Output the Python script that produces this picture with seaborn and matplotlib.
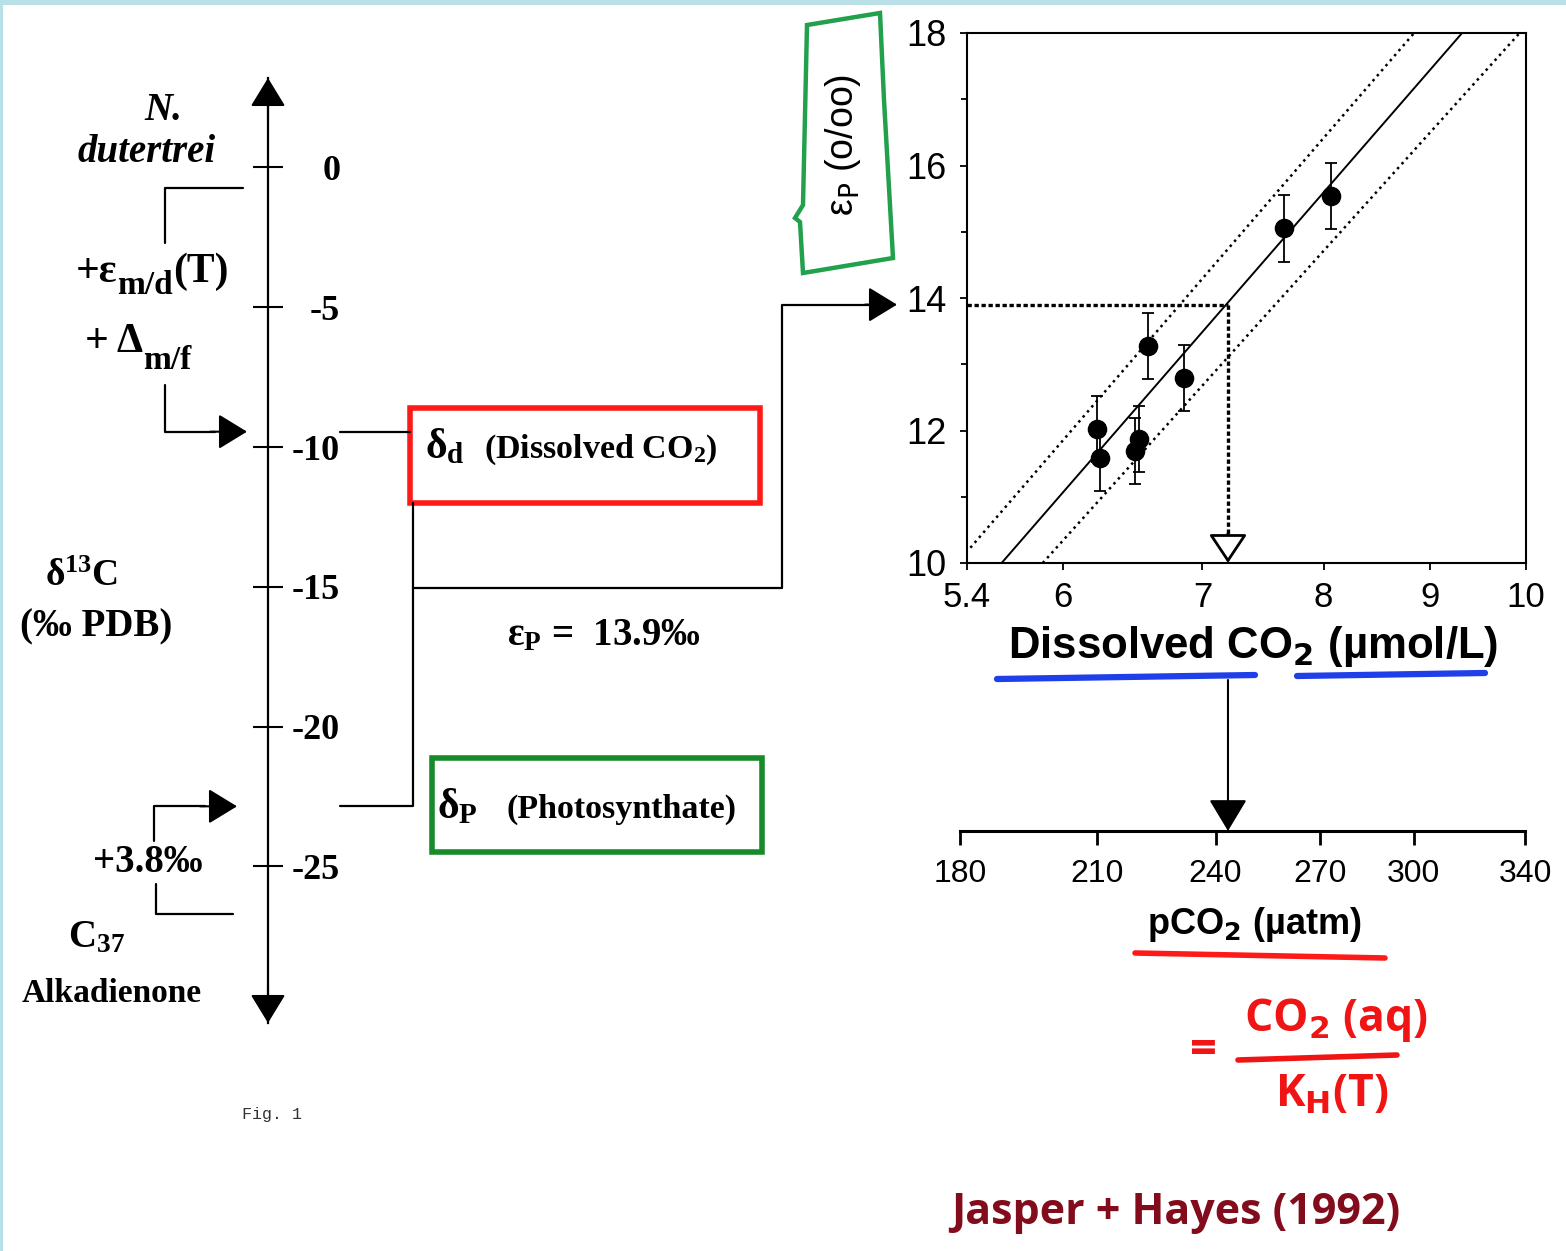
import numpy as np
import pandas as pd
import seaborn as sns
import matplotlib
matplotlib.use('Agg')
import matplotlib.pyplot as plt
from matplotlib.patches import Rectangle, Polygon
from matplotlib.ticker import FixedLocator, NullLocator

# ---- data ----
co2 = [6.23, 6.25, 6.59, 6.86, 6.53, 6.50, 7.66, 8.07]          # umol/L
eps_p = [12.02, 11.59, 13.28, 12.79, 11.87, 11.69, 15.05, 15.54]  # per mil
eps_err = [0.5, 0.5, 0.5, 0.5, 0.5, 0.5, 0.5, 0.5]

fit_co2 = [5.61, 9.32]
fit_eps = [10.0, 18.0]
upper_co2 = [5.42, 8.84]
upper_eps = [10.23, 18.0]
lower_co2 = [5.87, 9.93]
lower_eps = [10.0, 18.0]

eps_sample = 13.9
co2_sample = 7.2

co2_ticks = [5.4, 6, 7, 8, 9, 10]
eps_ticks = [10, 12, 14, 16, 18]
pco2_ticks = [180, 210, 240, 270, 300, 340]
d13c_ticks = [0, -5, -10, -15, -20, -25]

delta_foram = -0.75   # N. dutertrei
delta_d = -9.45       # dissolved CO2
delta_p = -22.85      # photosynthate
delta_c37 = -26.7     # C37 alkadienone

W, H = 1566, 1251
sns.set_style('white')
plt.rcParams['font.family'] = ['Liberation Sans', 'DejaVu Sans']
plt.rcParams['text.color'] = 'black'
plt.rcParams['axes.labelcolor'] = 'black'
plt.rcParams['mathtext.fontset'] = 'custom'
plt.rcParams['mathtext.rm'] = 'Liberation Serif:bold'
plt.rcParams['mathtext.it'] = 'Liberation Serif:italic:bold'
plt.rcParams['mathtext.bf'] = 'Liberation Serif:bold'

fig = plt.figure(figsize=(W / 100, H / 100), dpi=100)
fig.patch.set_facecolor('white')

# background axes in pixel units (top-left origin)
ax_bg = fig.add_axes([0, 0, 1, 1])
ax_bg.set_xlim(0, W)
ax_bg.set_ylim(H, 0)
ax_bg.axis('off')
ax_bg.add_patch(Rectangle((0, 0), W, 5, color='#b9e0e6', lw=0))
ax_bg.add_patch(Rectangle((0, 0), 3, H, color='#b9e0e6', lw=0))

SERIF = 'Liberation Serif'
BLK = 'black'
renderer = fig.canvas.get_renderer()


def arrow(x0, y0, x1, y1, fc='k', hl=0.9, hw=0.55, lw=1.5):
    ax_bg.annotate('', xy=(x1, y1), xytext=(x0, y0),
                   arrowprops=dict(arrowstyle=f'-|>,head_length={hl},head_width={hw}',
                                   mutation_scale=20, fc=fc, ec='k', lw=lw,
                                   shrinkA=0, shrinkB=0))


def seq(x, y, parts, **kw):
    # pieces of text laid side by side, each with its own size and baseline shift
    for s, size, dy in parts:
        t = ax_bg.text(x, y + dy, s, fontsize=size, ha='left', va='baseline', **kw)
        x += t.get_window_extent(renderer).width


# ---- delta13C scale ----
ax_c = fig.add_axes([168 / W, 1 - 1023 / H, 100 / W, 945 / H])
ax_c.set_ylim(-30.6, 3.2)
ax_c.patch.set_visible(False)
for s in ['left', 'top', 'bottom']:
    ax_c.spines[s].set_visible(False)
ax_c.spines['right'].set_linewidth(1.6)
ax_c.spines['right'].set_color(BLK)
ax_c.set_xticks([])
ax_c.yaxis.tick_right()
ax_c.set_yticks(d13c_ticks, [str(t) for t in d13c_ticks], fontfamily=SERIF,
                fontweight='bold', fontsize=26)
ax_c.tick_params(axis='y', direction='inout', length=22, width=1.5, pad=41, colors=BLK)
for lbl in ax_c.get_yticklabels():
    lbl.set_ha('right')


def lvl(d):
    return H - ax_c.transData.transform((0, d))[1]


arrow(268, 120, 268, 78)
arrow(268, 985, 268, 1023)

yd, yp, yf, yc = lvl(delta_d), lvl(delta_p), lvl(delta_foram), lvl(delta_c37)

lk = dict(color='k', lw=1.6)
ax_bg.plot([243, 165, 165], [yf, yf, 243], **lk)
ax_bg.plot([165, 165, 215], [385, yd, yd], **lk)
arrow(210, yd, 247, yd)
ax_bg.plot([340, 410], [yd, yd], **lk)
ax_bg.plot([413, 413, 340], [503, yp, yp], **lk)
ax_bg.plot([233, 156, 156], [yc, yc, 884], **lk)
ax_bg.plot([154, 154, 205], [841, yp, yp], **lk)
arrow(200, yp, 237, yp)

ax_bg.add_patch(Rectangle((410, 408), 350, 95, fill=False, ec='#ff1a1a', lw=4))
ax_bg.add_patch(Rectangle((432, 758), 330, 94, fill=False, ec='#178a2a', lw=4))

tk = dict(fontfamily=SERIF, fontweight='bold', color='k')
ax_bg.text(163, 110, 'N.', fontsize=28, style='italic', ha='center', va='center', **tk)
ax_bg.text(147, 153, 'dutertrei', fontsize=28, style='italic', ha='center', va='center', **tk)
seq(76, 282, [('+ε', 30, 0), ('m/d', 24, 12), ('(T)', 30, 0)], **tk)
seq(85, 352, [('+ Δ', 30, 0), ('m/f', 24, 17)], **tk)
ax_bg.text(82, 576, r'δ$^\mathrm{13}$C', fontsize=27, ha='center', va='center', **tk)
ax_bg.text(96, 627, '(‰ PDB)', fontsize=28, ha='center', va='center', **tk)
ax_bg.text(148, 862, '+3.8‰', fontsize=28, ha='center', va='center', **tk)
ax_bg.text(96, 938, r'C$_\mathrm{37}$', fontsize=28, ha='center', va='center', **tk)
ax_bg.text(112, 993, 'Alkadienone', fontsize=24, ha='center', va='center', **tk)

ax_bg.text(425, 458, r'δ$_\mathrm{d}$', fontsize=30, ha='left', va='baseline', **tk)
ax_bg.text(484, 458, r'(Dissolved CO$_\mathrm{2}$)', fontsize=24.5, ha='left', va='baseline', **tk)
ax_bg.text(437, 818, r'δ$_\mathrm{P}$', fontsize=30, ha='left', va='baseline', **tk)
ax_bg.text(506, 818, '(Photosynthate)', fontsize=24.5, ha='left', va='baseline', **tk)
ax_bg.text(604, 645, r'ε$_\mathrm{P}$ =  13.9‰', fontsize=28, ha='center', va='baseline', **tk)

ax_bg.text(272, 1115, 'Fig. 1', fontsize=12, fontfamily='Liberation Mono',
           color='#333333', ha='center', va='center')

# ---- epsilon_p vs dissolved CO2 ----
ax_s = fig.add_axes([967 / W, 1 - 563 / H, 559 / W, 530 / H])
ax_s.set_xscale('log')
ax_s.set_xlim(5.4, 10)
ax_s.set_ylim(10, 18)
for s in ax_s.spines.values():
    s.set_visible(True)
    s.set_color(BLK)
    s.set_linewidth(1.5)

ax_s.errorbar(co2, eps_p, yerr=eps_err, fmt='none', ecolor='k', elinewidth=1.3,
              capsize=4, capthick=1.3, zorder=3)
sns.scatterplot(x=co2, y=eps_p, ax=ax_s, color='k', s=170, edgecolor='k', zorder=4)
sns.lineplot(x=fit_co2, y=fit_eps, ax=ax_s, color='k', lw=1.4)
sns.lineplot(x=upper_co2, y=upper_eps, ax=ax_s, color='k', lw=1.8, ls=':')
sns.lineplot(x=lower_co2, y=lower_eps, ax=ax_s, color='k', lw=1.8, ls=':')

ax_s.plot([5.4, co2_sample], [eps_sample, eps_sample], color='k', lw=2.4, ls=(0, (1.3, 0.8)))
ax_s.plot([co2_sample, co2_sample], [eps_sample, 10.4], color='k', lw=2.4, ls=(0, (1.3, 0.8)))
ax_s.annotate('', xy=(co2_sample, 10.0), xytext=(co2_sample, 10.45),
              arrowprops=dict(arrowstyle='-|>,head_length=0.9,head_width=0.6',
                              mutation_scale=20, fc='white', ec='k', lw=2,
                              shrinkA=0, shrinkB=0), annotation_clip=False)

ax_s.xaxis.set_major_locator(FixedLocator(co2_ticks))
ax_s.xaxis.set_minor_locator(NullLocator())
ax_s.set_xticklabels([str(t) for t in co2_ticks], fontsize=25)
ax_s.set_yticks(eps_ticks, [str(t) for t in eps_ticks], fontsize=26)
ax_s.yaxis.set_minor_locator(FixedLocator([11, 13, 15, 17]))
ax_s.tick_params(axis='both', which='both', direction='out', length=5, width=1.3,
                 colors=BLK, bottom=True, left=True)
ax_s.tick_params(axis='x', pad=8)
ax_s.tick_params(axis='y', pad=10)
ax_s.tick_params(axis='y', which='minor', length=4)

ax_s.set_xlabel(r'Dissolved CO$_\mathbf{2}$ (µmol/L)', fontsize=31.5, fontweight='bold',
                math_fontfamily='dejavusans')
ax_s.xaxis.set_label_coords(0.512, -0.116)
ax_s.set_ylabel(r'ε$_\mathrm{P}$ (o/oo)', fontsize=27, math_fontfamily='dejavusans')
ax_s.yaxis.label.set_va('center')
ax_s.yaxis.set_label_coords(-0.222, 0.789)


def sx(c):
    return ax_s.transData.transform((c, 12))[0]


def sy(e):
    return H - ax_s.transData.transform((7, e))[1]


ye = sy(eps_sample)
ax_bg.plot([413, 782, 782, 870], [588, 588, ye, ye], **lk)
arrow(865, ye, 897, ye)

ax_bg.add_patch(Polygon([(807, 25), (880, 13), (884, 100), (893, 258), (803, 273),
                         (800, 222), (795, 218), (803, 205)], closed=True,
                        fill=False, ec='#22a04c', lw=3.2))

# ---- pCO2 axis ----
ax_p = fig.add_axes([960 / W, 1 - 831 / H, 565 / W, 100 / H])
ax_p.set_xscale('log')
ax_p.set_xlim(180, 340)
ax_p.patch.set_visible(False)
for s in ['left', 'top', 'right']:
    ax_p.spines[s].set_visible(False)
ax_p.spines['bottom'].set_linewidth(2.2)
ax_p.spines['bottom'].set_color(BLK)
ax_p.set_yticks([])
ax_p.xaxis.set_major_locator(FixedLocator(pco2_ticks))
ax_p.xaxis.set_minor_locator(NullLocator())
ax_p.set_xticklabels([str(t) for t in pco2_ticks], fontsize=23)
ax_p.tick_params(axis='x', direction='out', length=10, width=2, pad=10, colors=BLK, bottom=True)
ax_p.set_xlabel(r'pCO$_\mathbf{2}$ (µatm)', fontsize=26, fontweight='bold',
                math_fontfamily='dejavusans')
ax_p.xaxis.set_label_coords(0.52, -0.74)

xa = sx(co2_sample)
arrow(xa, 680, xa, 831, hl=1.0, hw=0.6)

# hand annotations
ax_bg.plot([997, 1255], [679, 675], color='#1f3fe8', lw=4.5, solid_capstyle='round')
ax_bg.plot([1297, 1485], [676, 673], color='#1f3fe8', lw=4.5, solid_capstyle='round')
ax_bg.plot([1135, 1385], [953, 958], color='#ff1a1a', lw=4, solid_capstyle='round')

rk = dict(color='#f01414', fontfamily='Open Sans', fontweight='bold',
          math_fontfamily='dejavusans', ha='center', va='center')
ax_bg.text(1203, 1052, '=', fontsize=34, **rk)
ax_bg.text(1336, 1020, r'CO$_\mathbf{2}$ (aq)', fontsize=32, **rk)
ax_bg.plot([1238, 1397], [1060, 1055], color='#f01414', lw=4, solid_capstyle='round')
ax_bg.text(1332, 1095, r'K$_\mathbf{H}$(T)', fontsize=32, **rk)
ax_bg.text(1176, 1212, 'Jasper + Hayes (1992)', fontsize=31, color='#820c1c',
           fontfamily='Open Sans', fontweight='bold', ha='center', va='center')

fig.savefig('out.png', dpi=100)
